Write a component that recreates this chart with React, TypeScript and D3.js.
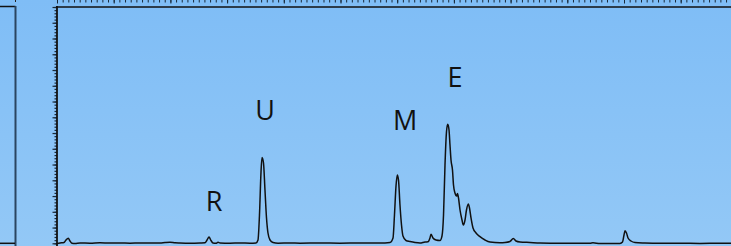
import React, { useEffect, useRef } from "react";
import * as d3 from "d3";

// retention time (axis units) and detector signal
const times = [
  0, 0.053, 0.123, 0.159, 0.199, 0.229, 0.265, 0.317, 0.406, 0.582, 0.758, 0.935, 1.111, 1.287,
  1.464, 1.64, 1.817, 1.905, 1.993, 2.081, 2.169, 2.346, 2.522, 2.61, 2.646, 2.681, 2.716, 2.751,
  2.804, 2.84, 2.875, 3.051, 3.228, 3.404, 3.51, 3.545, 3.571, 3.598, 3.616, 3.642, 3.668, 3.695,
  3.721, 3.757, 3.81, 3.898, 4.109, 4.286, 4.638, 4.991, 5.344, 5.697, 5.873, 5.926, 5.952, 5.979,
  6.002, 6.023, 6.049, 6.076, 6.102, 6.155, 6.226, 6.314, 6.402, 6.49, 6.543, 6.578, 6.596, 6.631,
  6.684, 6.755, 6.79, 6.817, 6.843, 6.869, 6.891, 6.914, 6.931, 6.949, 6.975, 6.993, 7.019, 7.049,
  7.063, 7.081, 7.108, 7.143, 7.166, 7.196, 7.222, 7.254, 7.275, 7.302, 7.337, 7.39, 7.46, 7.549,
  7.637, 7.813, 7.901, 7.989, 8.048, 8.095, 8.166, 8.342, 8.519, 8.871, 9.224, 9.4, 9.453, 9.577,
  9.841, 9.929, 9.974, 10.0, 10.018, 10.044, 10.071, 10.123, 10.194, 10.37, 10.635, 10.988, 11.34,
  11.693, 11.887,
];
const signal = [
  -0.013, 0.019, 0.051, 0.21, 0.317, 0.146, 0.0, -0.013, 0.019, 0.006, 0.032, 0.013, 0.019, 0.006,
  0.025, 0.019, 0.013, 0.044, 0.063, 0.032, 0.019, 0.006, 0.019, 0.032, 0.21, 0.4, 0.178, 0.019,
  0.006, 0.063, 0.019, 0.006, 0.019, 0.006, 0.019, 0.21, 1.797, 4.527, 5.448, 5.098, 3.384, 1.606,
  0.654, 0.21, 0.051, 0.006, 0.019, 0.006, 0.019, 0.006, 0.019, 0.019, 0.051, 0.337, 1.797, 3.638,
  4.337, 4.019, 2.432, 1.162, 0.463, 0.178, 0.114, 0.051, 0.019, 0.083, 0.095, 0.337, 0.571, 0.337,
  0.21, 0.178, 0.463, 1.797, 4.971, 7.067, 7.556, 7.194, 6.241, 5.289, 4.654, 3.702, 3.194, 3.003,
  3.162, 2.876, 2.114, 1.479, 1.162, 1.479, 2.114, 2.495, 2.241, 1.606, 0.971, 0.654, 0.419, 0.21,
  0.083, 0.038, 0.051, 0.114, 0.305, 0.146, 0.083, 0.051, 0.019, 0.0, 0.006, 0.0, 0.032, -0.013,
  -0.013, -0.006, 0.083, 0.527, 0.8, 0.654, 0.337, 0.146, 0.051, 0.019, 0.0, 0.006, -0.006, 0.0, 0.0,
];

const peakNames = ["R", "U", "M", "E"];
const peakTimes = [2.769, 3.668, 6.138, 7.019];
const peakLabelLevels = [2.05, 7.83, 7.19, 9.92];

const W = 731;
const H = 246;

export default function App() {
  const ref = useRef<SVGSVGElement>(null);

  useEffect(() => {
    const svg = d3.select(ref.current);
    svg.selectAll("*").remove();

    const x = d3.scaleLinear().domain([0, 12]).range([57, 57 + 12 * 56.7]);
    const y = d3.scaleLinear().domain([0, 15]).range([243.3, 7]);

    // background gradient
    const grad = svg.append("defs").append("linearGradient")
      .attr("id", "bg").attr("x1", 0).attr("y1", 0).attr("x2", 0).attr("y2", 1);
    grad.append("stop").attr("offset", "0%").attr("stop-color", "#7fbdf6");
    grad.append("stop").attr("offset", "100%").attr("stop-color", "#93c8f6");
    svg.append("rect").attr("width", W).attr("height", H).attr("fill", "url(#bg)");

    // neighbouring panel on the left (only its edge is visible)
    svg.append("line").attr("x1", 0).attr("x2", 15.5).attr("y1", 6.5).attr("y2", 6.5)
      .attr("stroke", "#111").attr("stroke-width", 1.5);
    svg.append("line").attr("x1", 15.5).attr("x2", 15.5).attr("y1", 6).attr("y2", H)
      .attr("stroke", "#2a4560").attr("stroke-width", 2);
    svg.append("line").attr("x1", 15.5).attr("x2", 15.5).attr("y1", -2).attr("y2", 2)
      .attr("stroke", "#222").attr("stroke-width", 1);
    svg.append("line").attr("x1", 0).attr("x2", 15).attr("y1", 243.3).attr("y2", 243.3)
      .attr("stroke", "#111").attr("stroke-width", 1.5);

    // top axis: major + minor ticks above the frame
    const topMinor = d3.axisTop(x).tickValues(d3.range(0, 12.01, 0.1)).tickSize(4).tickFormat(() => "");
    const topMajor = d3.axisTop(x).tickValues(d3.range(0, 13, 1)).tickSize(7).tickFormat(() => "");
    const gTopMinor = svg.append("g").attr("transform", "translate(0,2.5)").call(topMinor);
    const gTopMajor = svg.append("g").attr("transform", "translate(0,3.5)").call(topMajor);
    [gTopMinor, gTopMajor].forEach((g) => {
      g.select(".domain").remove();
      g.selectAll("line").attr("stroke", "#1a2a3a").attr("stroke-width", 1);
    });
    svg.append("line").attr("x1", 56).attr("x2", W).attr("y1", 7).attr("y2", 7)
      .attr("stroke", "#111").attr("stroke-width", 1.6);

    // left axis: 5 minor ticks per major
    const leftMinor = d3.axisLeft(y).tickValues(d3.range(0, 15.01, 0.2)).tickSize(2.5).tickFormat(() => "");
    const leftMajor = d3.axisLeft(y).tickValues(d3.range(0, 16, 1)).tickSize(4.5).tickFormat(() => "");
    const gl1 = svg.append("g").attr("transform", "translate(57,0)").call(leftMinor);
    const gl2 = svg.append("g").attr("transform", "translate(57,0)").call(leftMajor);
    [gl1, gl2].forEach((g) => {
      g.select(".domain").remove();
      g.selectAll("line").attr("stroke", "#1a2a3a").attr("stroke-width", 1.2);
    });
    svg.append("line").attr("x1", 57).attr("x2", 57).attr("y1", 6).attr("y2", H)
      .attr("stroke", "#111").attr("stroke-width", 1.8);

    // chromatogram trace
    const pts: [number, number][] = times.map((t, i) => [t, signal[i]]);
    const line = d3.line<[number, number]>()
      .x((d) => x(d[0]))
      .y((d) => y(d[1]))
      .curve(d3.curveMonotoneX);
    svg.append("path").datum(pts).attr("d", line).attr("fill", "none")
      .attr("stroke", "#111").attr("stroke-width", 1.5).attr("stroke-linejoin", "round");

    // peak labels
    svg.selectAll("text.peak").data(peakNames).join("text")
      .attr("class", "peak")
      .attr("x", (_, i) => x(peakTimes[i]))
      .attr("y", (_, i) => y(peakLabelLevels[i]))
      .attr("text-anchor", "middle")
      .attr("font-family", "'Open Sans', sans-serif")
      .attr("font-size", 27)
      .attr("fill", "#111")
      .text((d) => d);
  }, []);

  return (
    <svg ref={ref} width={W} height={H}
      style={{ position: "fixed", top: 0, left: 0, display: "block" }} />
  );
}
